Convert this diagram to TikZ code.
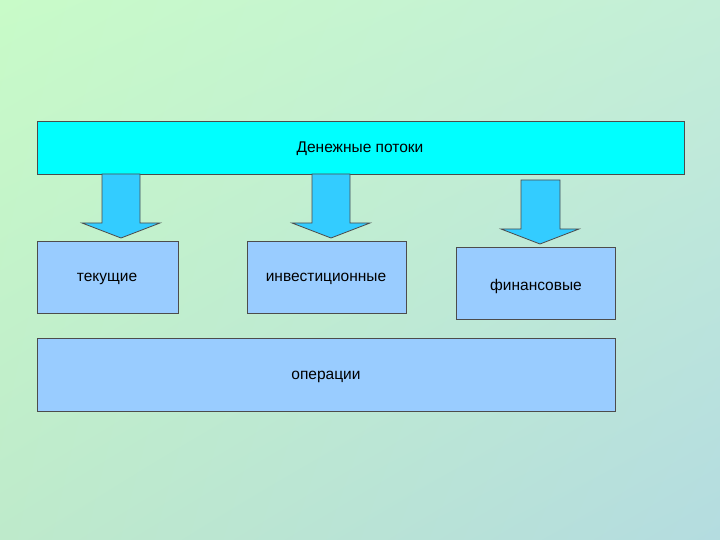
\documentclass[tikz,border=0pt]{standalone}
\usepackage{fontspec}
\setmainfont{Liberation Sans}
\usetikzlibrary{shadings}
\definecolor{bgtl}{HTML}{C8FBC8}
\definecolor{bgtr}{HTML}{C4EED8}
\definecolor{bgbl}{HTML}{BEEACB}
\definecolor{bgbr}{HTML}{B4DCE0}
\definecolor{boxblue}{HTML}{99CCFF}
\definecolor{arrblue}{HTML}{33CCFF}
\definecolor{topcyan}{HTML}{00FFFF}
\begin{document}
\begin{tikzpicture}[x=1pt,y=-1pt,
  box/.style={draw=black!70, line width=0.8pt, fill=boxblue},
  blockarrow/.style={draw=black!70, line width=0.8pt, fill=arrblue},
  lbl/.style={font=\fontsize{15.5}{18}\selectfont, inner sep=0pt}]
\useasboundingbox (0,0) rectangle (720,540);
\shade[upper left=bgtl, upper right=bgtr, lower left=bgbl, lower right=bgbr] (0,0) rectangle (720,540);
\draw[line width=0.8pt, draw=black!70, fill=topcyan] (37,121) rectangle (684,174);
\node[lbl] (top) at (360,149) {Денежные потоки};
\draw[blockarrow] (102,174) -- (140,174) -- (140,223) -- (160,223) -- (121,238) -- (82,223) -- (102,223) -- cycle;
\draw[blockarrow] (312,174) -- (350,174) -- (350,223) -- (370,223) -- (331,238) -- (292,223) -- (312,223) -- cycle;
\draw[blockarrow] (521,180) -- (560,180) -- (560,229) -- (579,229) -- (540,244) -- (501,229) -- (521,229) -- cycle;
\draw[box] (37,241) rectangle (178,313);
\node[lbl] (a) at (107,279) {текущие};
\draw[box] (247,241) rectangle (406,313);
\node[lbl] (b) at (326,279) {инвестиционные};
\draw[box] (456,247) rectangle (615,319);
\node[lbl] (c) at (536,286) {финансовые};
\draw[box] (37,338) rectangle (615,411);
\node[lbl] (d) at (326,377) {операции};
\end{tikzpicture}
\end{document}
